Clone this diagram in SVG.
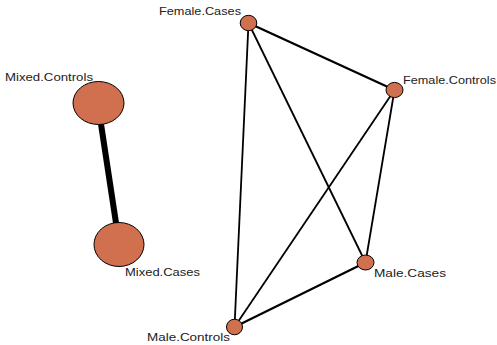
<svg xmlns="http://www.w3.org/2000/svg" width="497" height="345" viewBox="0 0 497 345">
<style>
.n{fill:#D0704F;stroke:#000;stroke-width:1}
.e{stroke:#000;stroke-width:1.8;fill:none}
.t{font-family:"Liberation Sans",Arial,sans-serif;font-size:10.5px;fill:#222}
</style>
<rect width="497" height="345" fill="#fff"/>
<g id="edges">
<line class="e" x1="101" y1="124" x2="116" y2="223" style="stroke-width:6"/>
<line class="e" x1="248.5" y1="23" x2="394.5" y2="90" style="stroke-width:2.3"/>
<line class="e" x1="248.5" y1="23" x2="234.5" y2="327"/>
<line class="e" x1="248.5" y1="23" x2="365.5" y2="262.5"/>
<line class="e" x1="394.5" y1="90" x2="234.5" y2="327"/>
<line class="e" x1="394.5" y1="90" x2="365.5" y2="262.5"/>
<line class="e" x1="365.5" y1="262.5" x2="234.5" y2="327" style="stroke-width:2.2"/>
</g>
<g id="Mixed.Controls">
<ellipse class="n" cx="98.5" cy="103" rx="25.5" ry="21.5"/>
<text class="t" x="5" y="81" textLength="88" lengthAdjust="spacingAndGlyphs">Mixed.Controls</text>
</g>
<g id="Mixed.Cases">
<ellipse class="n" cx="119" cy="244.5" rx="25" ry="22"/>
<text class="t" x="125" y="276" textLength="75" lengthAdjust="spacingAndGlyphs">Mixed.Cases</text>
</g>
<g id="Female.Cases">
<ellipse class="n" cx="248.5" cy="23" rx="8.3" ry="7.7"/>
<text class="t" x="159" y="15" textLength="82" lengthAdjust="spacingAndGlyphs">Female.Cases</text>
</g>
<g id="Female.Controls">
<ellipse class="n" cx="394.5" cy="90" rx="8.5" ry="7.6"/>
<text class="t" x="403" y="84" textLength="93" lengthAdjust="spacingAndGlyphs">Female.Controls</text>
</g>
<g id="Male.Cases">
<ellipse class="n" cx="365.5" cy="262.5" rx="8.5" ry="7.5"/>
<text class="t" x="374" y="277" textLength="72" lengthAdjust="spacingAndGlyphs">Male.Cases</text>
</g>
<g id="Male.Controls">
<ellipse class="n" cx="234.5" cy="327" rx="8" ry="7.8"/>
<text class="t" x="147" y="341" textLength="83" lengthAdjust="spacingAndGlyphs">Male.Controls</text>
</g>
</svg>
